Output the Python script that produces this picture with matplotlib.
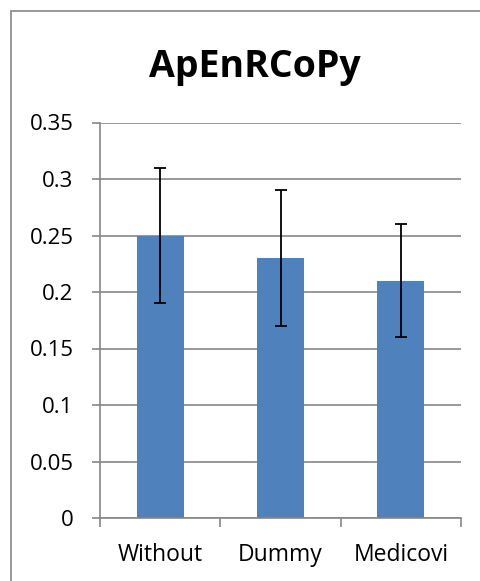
import matplotlib.pyplot as plt
from matplotlib.patches import Rectangle
from matplotlib.ticker import FixedLocator, NullFormatter

categories = ["Without", "Dummy", "Medicovi"]
values = [0.25, 0.23, 0.21]
err_low = [0.06, 0.06, 0.05]
err_high = [0.06, 0.06, 0.05]
y_ticks = [0, 0.05, 0.1, 0.15, 0.2, 0.25, 0.3, 0.35]
y_labels = ["0", "0.05", "0.1", "0.15", "0.2", "0.25", "0.3", "0.35"]

plt.rcParams.update({
    "font.family": ["Open Sans", "DejaVu Sans"],
})

W, H = 481, 581
fig = plt.figure(figsize=(W / 100, H / 100), dpi=100)
grey = "#868686"

# chart border (runs off the right and bottom of the picture)
fig.add_artist(Rectangle((11 / W, -0.05), 1.1, 1 - 11 / H + 0.05,
                         transform=fig.transFigure, fill=False,
                         edgecolor=grey, linewidth=1.2))

ax = fig.add_axes([100 / W, 1 - 518 / H, 361 / W, (518 - 122.5) / H])
x = range(len(categories))
ax.bar(x, values, width=0.39, color="#4F81BD", zorder=2)
ax.errorbar(x, values, yerr=[err_low, err_high], fmt="none", ecolor="black",
            elinewidth=1.3, capsize=4.5, capthick=1.3, zorder=3)

ax.set_xlim(-0.5, 2.5)
ax.set_ylim(0, 0.35)
ax.set_yticks(y_ticks)
ax.set_yticklabels(y_labels, fontsize=16)
ax.yaxis.grid(True, color=grey, linewidth=1.2)
ax.set_axisbelow(True)

ax.xaxis.set_major_locator(FixedLocator([-0.5, 0.5, 1.5, 2.5]))
ax.xaxis.set_major_formatter(NullFormatter())
ax.set_xticks(list(x), minor=True)
ax.set_xticklabels(categories, minor=True, fontsize=16.5)
ax.tick_params(axis="x", which="major", direction="out", length=6.5, color=grey, width=1.2)
ax.tick_params(axis="x", which="minor", length=0, pad=18)
ax.tick_params(axis="y", direction="out", length=6, color=grey, width=1.2, pad=13)

for side in ["top", "right"]:
    ax.spines[side].set_visible(False)
for side in ["left", "bottom"]:
    ax.spines[side].set_color(grey)
    ax.spines[side].set_linewidth(1.2)

fig.text(255 / W, 1 - 67 / H, "ApEnRCoPy", fontsize=27, fontweight="bold",
         ha="center", va="center")

fig.savefig("out.png", dpi=100)
